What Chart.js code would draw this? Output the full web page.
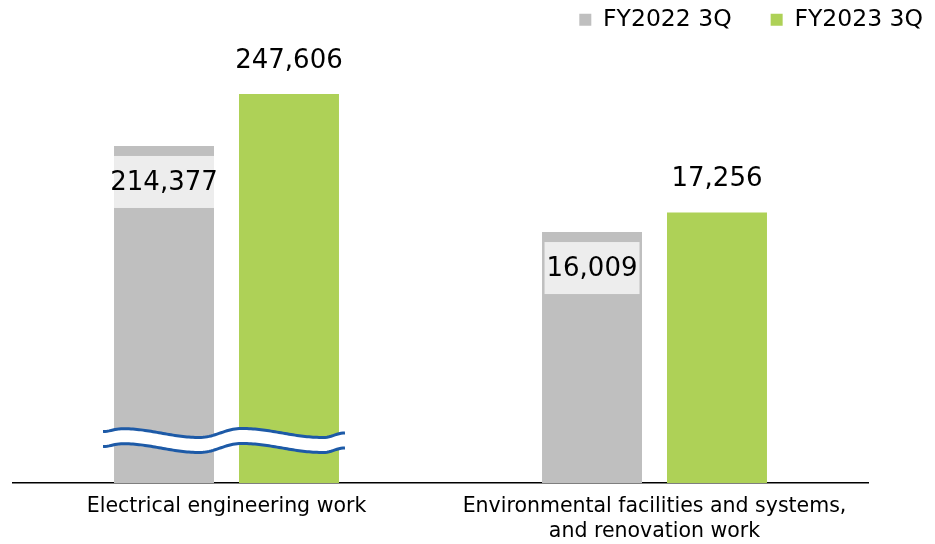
<!DOCTYPE html>
<html>
<head>
<meta charset="utf-8">
<script src="https://cdn.jsdelivr.net/npm/chart.js@4/dist/chart.umd.min.js"></script>
<style>
    html, body { margin: 0; padding: 0; background: #ffffff; }
    #wrap { width: 935px; height: 544px; position: relative; }
</style>
</head>
<body>
<div id="wrap"><canvas id="salesChart"></canvas></div>
<script>
/* ========================================
   Data
   ======================================== */

const categories = [
    'Electrical engineering work',
    ['Environmental facilities and systems,', 'and renovation work']
];
const seriesNames = ['FY2022 3Q', 'FY2023 3Q'];
const fy2022 = [214377, 16009];
const fy2023 = [247606, 17256];

/* ========================================
   Broken value axis
   value -> height above the baseline (px); the jump between
   20,000 and 200,000 is squeezed into ~1px (the wavy break)
   ======================================== */

const breakValues = [0, 20000, 200000, 285000];
const breakHeights = [0, 313.5, 314.5, 447.5];

function heightForValue(v) {
    for (let i = 1; i < breakValues.length; i++) {
        if (v <= breakValues[i] || i === breakValues.length - 1) {
            const t = (v - breakValues[i - 1]) / (breakValues[i] - breakValues[i - 1]);
            return breakHeights[i - 1] + t * (breakHeights[i] - breakHeights[i - 1]);
        }
    }
    return 0;
}

function valueForHeight(h) {
    for (let i = 1; i < breakHeights.length; i++) {
        if (h <= breakHeights[i] || i === breakHeights.length - 1) {
            const t = (h - breakHeights[i - 1]) / (breakHeights[i] - breakHeights[i - 1]);
            return breakValues[i - 1] + t * (breakValues[i] - breakValues[i - 1]);
        }
    }
    return 0;
}

class BrokenScale extends Chart.LinearScale {
    getPixelForValue(value) {
        if (value === null || value === undefined || isNaN(value)) return NaN;
        return this.bottom - heightForValue(value);
    }
    getValueForPixel(pixel) {
        return valueForHeight(this.bottom - pixel);
    }
}
BrokenScale.id = 'broken';
BrokenScale.defaults = Chart.LinearScale.defaults;
Chart.register(BrokenScale);

/* ========================================
   Plugins
   ======================================== */

const FONT = '"DejaVu Sans", Verdana, sans-serif';

// wavy break marker across the first category's bars
const breakMarker = {
    id: 'breakMarker',
    afterDatasetsDraw(chart) {
        const a = chart.getDatasetMeta(0).data[0];
        const b = chart.getDatasetMeta(1).data[0];
        if (!a || !b) return;
        const left = a.x - a.width / 2 - 11;
        const right = b.x + b.width / 2 + 6;
        const yc = chart.chartArea.bottom - 50;
        const gap = 15;
        // wave key points: fraction of span, offset
        const keys = [[0, -1.5], [0.08, -4.3], [0.40, 4.5], [0.57, -4.5], [0.91, 4.5], [1, 0]];
        const waveY = (x) => {
            const f = (x - left) / (right - left);
            for (let i = 1; i < keys.length; i++) {
                if (f <= keys[i][0]) {
                    const t = (f - keys[i - 1][0]) / (keys[i][0] - keys[i - 1][0]);
                    const s = (1 - Math.cos(Math.PI * t)) / 2;
                    return yc + keys[i - 1][1] + s * (keys[i][1] - keys[i - 1][1]);
                }
            }
            return yc + keys[keys.length - 1][1];
        };
        const ctx = chart.ctx;
        const pts = [];
        for (let x = left; x <= right; x += 2) pts.push(x);
        pts.push(right);

        ctx.save();
        ctx.beginPath();
        pts.forEach((x, i) => i ? ctx.lineTo(x, waveY(x)) : ctx.moveTo(x, waveY(x)));
        for (let i = pts.length - 1; i >= 0; i--) ctx.lineTo(pts[i], waveY(pts[i]) + gap);
        ctx.closePath();
        ctx.fillStyle = '#ffffff';
        ctx.fill();

        ctx.strokeStyle = '#1d5aa7';
        ctx.lineWidth = 3;
        [0, gap].forEach(off => {
            ctx.beginPath();
            pts.forEach((x, i) => i ? ctx.lineTo(x, waveY(x) + off) : ctx.moveTo(x, waveY(x) + off));
            ctx.stroke();
        });
        ctx.restore();
    }
};

// value labels: grey series inside the bar on a light box, green above the bar
const valueLabels = {
    id: 'valueLabels',
    afterDatasetsDraw(chart) {
        const ctx = chart.ctx;
        ctx.save();
        ctx.font = '26px ' + FONT;
        ctx.textAlign = 'center';
        ctx.textBaseline = 'middle';
        chart.data.datasets.forEach((ds, di) => {
            chart.getDatasetMeta(di).data.forEach((bar, i) => {
                const text = ds.data[i].toLocaleString('en-US');
                if (di === 0) {
                    const tw = ctx.measureText(text).width;
                    const bw = Math.min(tw + 4, bar.width);
                    const top = bar.y + 10;
                    ctx.fillStyle = '#ededed';
                    ctx.fillRect(bar.x - bw / 2, top, bw, 52);
                    ctx.fillStyle = '#000000';
                    ctx.fillText(text, bar.x, top + 27);
                } else {
                    ctx.fillStyle = '#000000';
                    ctx.fillText(text, bar.x, bar.y - 33);
                }
            });
        });
        ctx.restore();
    }
};

/* ========================================
   Chart
   ======================================== */

function initChart() {
    const canvas = document.getElementById('salesChart');
    const ctx = canvas.getContext('2d');

    new Chart(ctx, {
        type: 'bar',
        data: {
            labels: categories,
            datasets: [{
                label: seriesNames[0],
                data: fy2022,
                backgroundColor: '#bfbfbf',
                borderWidth: 0
            }, {
                label: seriesNames[1],
                data: fy2023,
                backgroundColor: '#aed157',
                borderWidth: 0
            }]
        },
        options: {
            responsive: true,
            maintainAspectRatio: false,
            animation: false,
            barPercentage: 0.8,
            categoryPercentage: 0.584,
            layout: {
                padding: { top: -31, right: -27, bottom: -11, left: 12.5 }
            },
            plugins: {
                legend: {
                    position: 'top',
                    align: 'end',
                    labels: {
                        boxWidth: 12,
                        boxHeight: 12,
                        padding: 39,
                        color: '#000000',
                        font: { family: FONT, size: 23.5 }
                    }
                },
                tooltip: { enabled: false }
            },
            scales: {
                x: {
                    grid: { display: false, drawTicks: false },
                    border: { display: true, color: '#000000', width: 1.5 },
                    ticks: {
                        color: '#000000',
                        padding: 11,
                        maxRotation: 0,
                        autoSkip: false,
                        font: { family: FONT, size: 20.5, lineHeight: 1.22 }
                    }
                },
                y: {
                    type: 'broken',
                    position: 'right',
                    min: 0,
                    max: 285000,
                    grid: { display: false, drawTicks: false },
                    border: { display: false },
                    ticks: { display: false },
                    afterFit: function (scale) { scale.width = 93.5; }
                }
            }
        },
        plugins: [breakMarker, valueLabels]
    });
}

document.addEventListener('DOMContentLoaded', initChart);
</script>
</body>
</html>
